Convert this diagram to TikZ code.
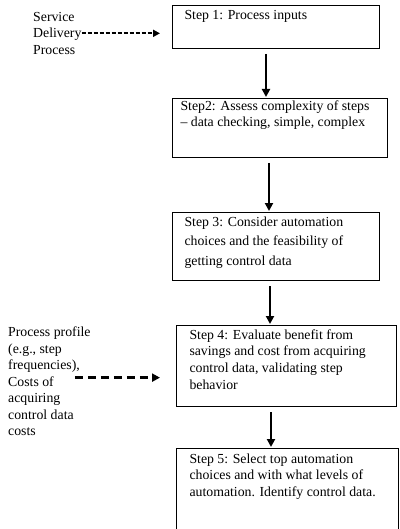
\documentclass[tikz,border=0pt]{standalone}
\usepackage{fontspec}
\setmainfont{Liberation Serif}
\usetikzlibrary{positioning, arrows.meta, calc}

\newcommand{\steptext}[3]{\begin{minipage}[t][#2pt][t]{#1pt}#3\end{minipage}}

\begin{document}
\begin{tikzpicture}[x=1pt, y=-1pt,
    stepbox/.style={draw, line width=1pt, anchor=north west,
      font=\fontsize{13.8}{16.7}\selectfont},
    sidetext/.style={anchor=north west, align=left, inner sep=0pt,
      font=\fontsize{13.8}{16.5}\selectfont},
    flow/.style={-{Triangle[length=8pt,width=8pt]}, line width=2pt,
      shorten <=5pt, shorten >=1pt},
    feed/.style={-{Triangle[length=7pt,width=7pt]}, line width=2pt}]
  \useasboundingbox (0,0) rectangle (399,529);
  \clip (0,0) rectangle (399,529);

  \node[stepbox, inner xsep=12pt, inner ysep=5pt] (inputs) at (172,5)
    {\steptext{183}{33}{Step 1: Process inputs}};
  \node[stepbox, inner xsep=8pt, inner ysep=2pt] (assess) at (172,98)
    {\steptext{199}{55}{Step2: Assess complexity of steps\\
      -- data checking, simple, complex}};
  \node[stepbox, inner xsep=12pt, inner ysep=4pt,
        font=\fontsize{13.8}{19.5}\selectfont] (consider) at (172,212)
    {\steptext{183}{60}{Step 3: Consider automation\\
      choices and the feasibility of\\ getting control data}};
  \node[stepbox, inner xsep=13pt, inner ysep=4pt] (evaluate) at (176,325)
    {\steptext{194}{73}{Step 4: Evaluate benefit from\\
      savings and cost from acquiring\\ control data, validating step\\
      behavior}};
  \node[stepbox, inner xsep=13pt, inner ysep=5pt] (select) at (176,448)
    {\steptext{196}{120}{Step 5: Select top automation\\
      choices and with what levels of\\ automation. Identify control data.}};

  \node[sidetext] (service) at (33,12) {Service\\ Delivery\\ Process};
  \node[sidetext] (profile) at (8,327)
    {Process profile\\ (e.g., step\\ frequencies),\\ Costs of\\ acquiring\\
     control data\\ costs};

  \foreach \a/\b/\x in {inputs/assess/266, assess/consider/269,
                        consider/evaluate/270, evaluate/select/271}
    \draw[flow] (\a.south -| \x,0) -- (\b.north -| \x,0);

  \coordinate (svcin) at (160,0);
  \draw[feed, dash pattern=on 4pt off 2pt]
    (service.east) -- (service.east -| svcin);
  \coordinate (profout) at ([shift={(-16,-4)}]profile.east);
  \coordinate (profin) at (160,0);
  \draw[feed, line width=2.5pt, dash pattern=on 8pt off 5pt,
        -{Triangle[length=8pt,width=8pt]}] (profout) -- (profout -| profin);
\end{tikzpicture}
\end{document}
